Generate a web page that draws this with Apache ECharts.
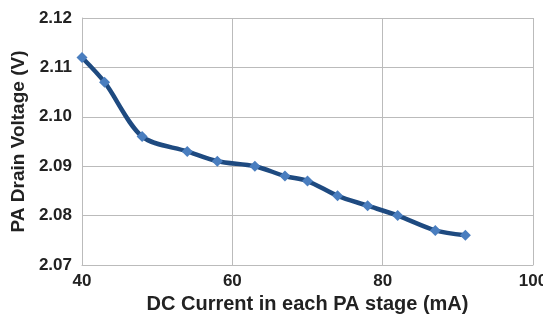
<!DOCTYPE html>
<html>
<head>
<meta charset="utf-8">
<script src="https://cdn.jsdelivr.net/npm/echarts@6/dist/echarts.min.js"></script>
<style>
  html, body { margin: 0; padding: 0; background: #fff; }
  #main { width: 543px; height: 316px; }
</style>
</head>
<body>
<div id="main"></div>
<script>
// 数据
var currents = [40, 43, 48, 54, 58, 63, 67, 70, 74, 78, 82, 87, 91];
var voltages = [2.112, 2.107, 2.096, 2.093, 2.091, 2.090, 2.088, 2.087, 2.084, 2.082, 2.080, 2.077, 2.076];
var xTitle = 'DC Current in each PA stage (mA)';
var yTitle = 'PA Drain Voltage (V)';

var myChart = echarts.init(document.getElementById('main'));
var points = currents.map(function (c, i) { return [c, voltages[i]]; });

var options = {
    animation: false,
    grid: { left: 82, right: 10, top: 18, bottom: 51, outerBoundsMode: 'none', containLabel: false },
    xAxis: {
        type: 'value',
        min: 40, max: 100, interval: 20,
        name: xTitle,
        nameLocation: 'middle',
        nameGap: 27,
        nameTextStyle: { fontFamily: 'Liberation Sans', fontWeight: 'bold', fontSize: 20, color: '#222' },
        axisLine: { lineStyle: { color: '#bbb' } },
        axisTick: { show: false },
        splitLine: { lineStyle: { color: '#bbb' } },
        axisLabel: { fontFamily: 'Liberation Sans', fontWeight: 'bold', fontSize: 17, color: '#222', margin: 8 }
    },
    yAxis: {
        type: 'value',
        min: 2.07, max: 2.12, interval: 0.01,
        name: yTitle,
        nameLocation: 'middle',
        nameGap: 52,
        nameTextStyle: { fontFamily: 'Liberation Sans', fontWeight: 'bold', fontSize: 19, color: '#222' },
        axisLine: { show: true, lineStyle: { color: '#bbb' } },
        axisTick: { show: false },
        splitLine: { lineStyle: { color: '#bbb' } },
        axisLabel: {
            fontFamily: 'Liberation Sans', fontWeight: 'bold', fontSize: 17, color: '#222', margin: 10,
            formatter: function (v) { return v.toFixed(2); }
        }
    },
    series: [{
        type: 'line',
        data: points,
        smooth: 0.3,
        symbol: 'diamond',
        symbolSize: 11,
        lineStyle: { color: '#1e4a80', width: 4.5 },
        itemStyle: { color: '#4a7ebf' }
    }]
};
myChart.setOption(options, true);
</script>
</body>
</html>
